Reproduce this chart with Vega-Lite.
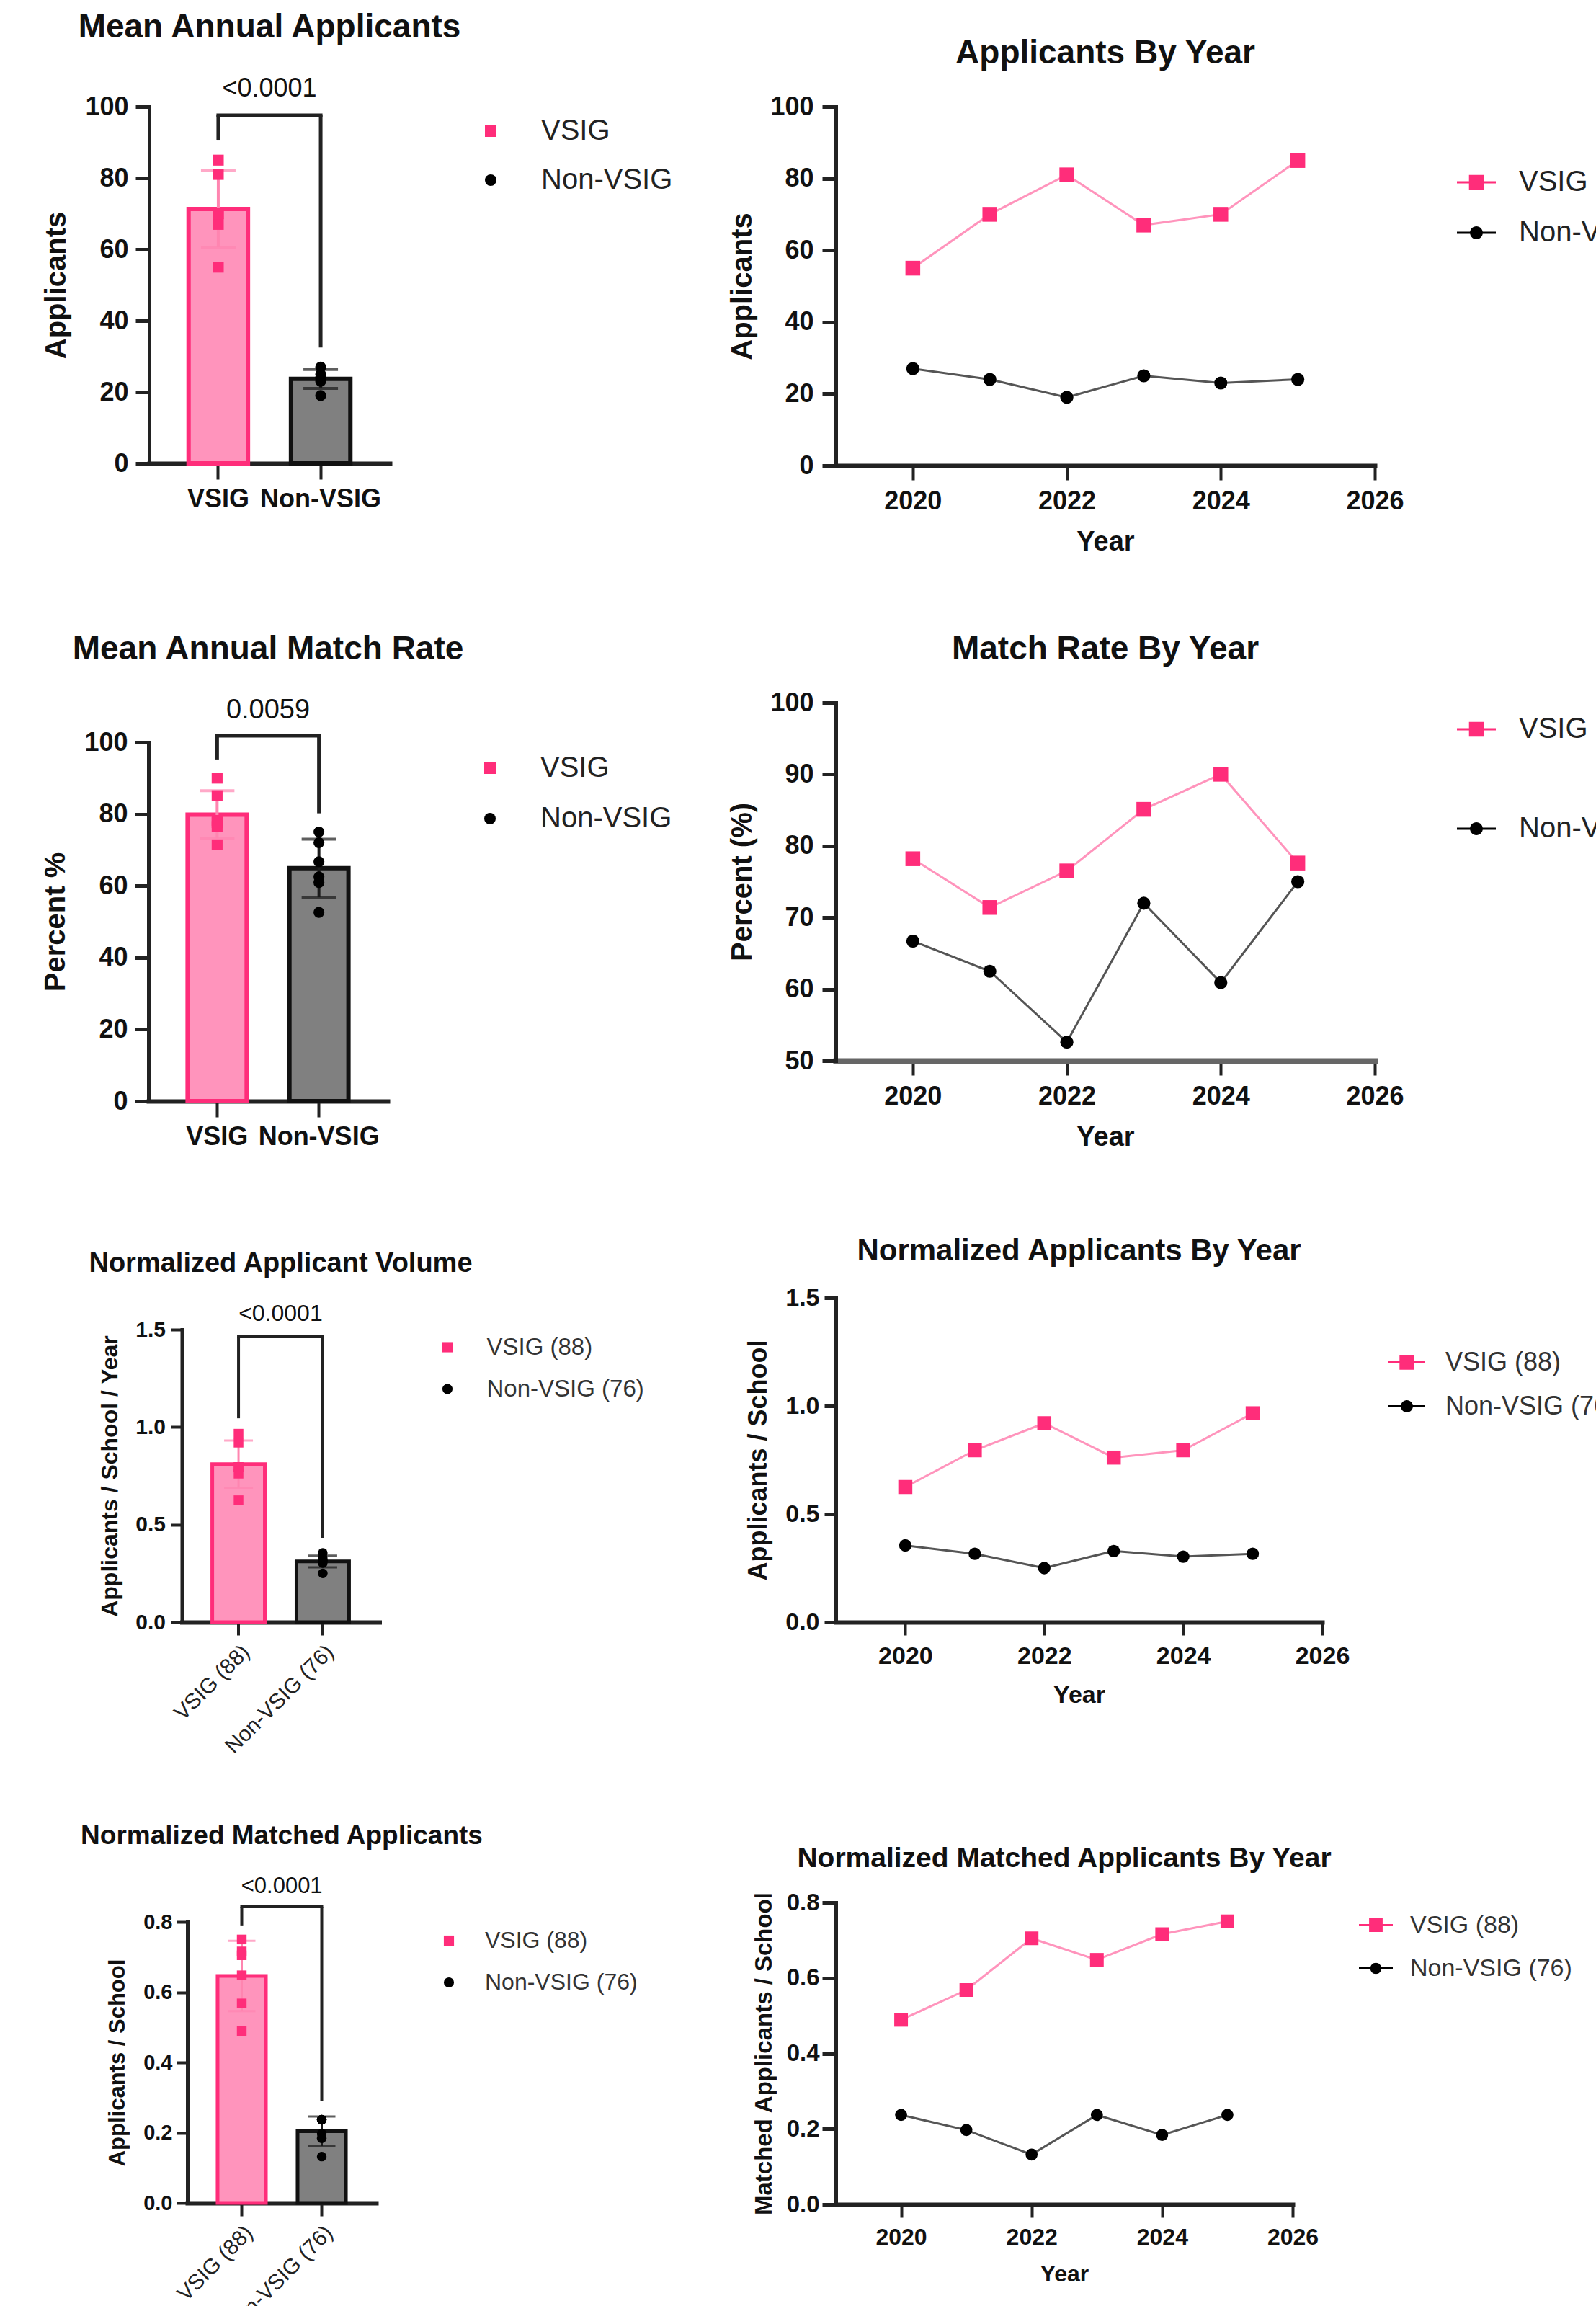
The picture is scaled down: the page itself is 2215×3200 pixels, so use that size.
{
  "$schema": "https://vega.github.io/schema/vega-lite/v6.json",
  "padding": {"left": 57, "top": 15, "right": 0, "bottom": 0},
  "background": "white",
  "config": {
    "view": {"stroke": null},
    "font": "Liberation Sans",
    "title": {"font": "Liberation Sans", "fontWeight": "bold", "color": "#111", "anchor": "middle", "frame": "group"},
    "axis": {"grid": false, "domainColor": "#222", "tickColor": "#222", "labelColor": "#111", "titleColor": "#111", "labelFont": "Liberation Sans", "titleFont": "Liberation Sans", "labelFontWeight": "bold", "titleFontWeight": "bold", "domainWidth": 5, "tickWidth": 5, "labelFlush": false, "labelOverlap": false, "labelLimit": 0, "domainCap": "square"},
    "legend": {"labelFont": "Liberation Sans", "title": null, "labelLimit": 0}
  },
  "datasets": {
    "applicants": [
      {"year": 2020, "group": "VSIG", "value": 55}, {"year": 2021, "group": "VSIG", "value": 70}, {"year": 2022, "group": "VSIG", "value": 81},
      {"year": 2023, "group": "VSIG", "value": 67}, {"year": 2024, "group": "VSIG", "value": 70}, {"year": 2025, "group": "VSIG", "value": 85},
      {"year": 2020, "group": "Non-VSIG", "value": 27}, {"year": 2021, "group": "Non-VSIG", "value": 24}, {"year": 2022, "group": "Non-VSIG", "value": 19},
      {"year": 2023, "group": "Non-VSIG", "value": 25}, {"year": 2024, "group": "Non-VSIG", "value": 23}, {"year": 2025, "group": "Non-VSIG", "value": 24}
    ],
    "matchrate": [
      {"year": 2020, "group": "VSIG", "value": 78.2}, {"year": 2021, "group": "VSIG", "value": 71.4}, {"year": 2022, "group": "VSIG", "value": 76.5},
      {"year": 2023, "group": "VSIG", "value": 85.1}, {"year": 2024, "group": "VSIG", "value": 90.0}, {"year": 2025, "group": "VSIG", "value": 77.6},
      {"year": 2020, "group": "Non-VSIG", "value": 66.7}, {"year": 2021, "group": "Non-VSIG", "value": 62.5}, {"year": 2022, "group": "Non-VSIG", "value": 52.6},
      {"year": 2023, "group": "Non-VSIG", "value": 72.0}, {"year": 2024, "group": "Non-VSIG", "value": 60.9}, {"year": 2025, "group": "Non-VSIG", "value": 75.0}
    ],
    "normapps": [
      {"year": 2020, "group": "VSIG (88)", "value": 0.625}, {"year": 2021, "group": "VSIG (88)", "value": 0.795}, {"year": 2022, "group": "VSIG (88)", "value": 0.920},
      {"year": 2023, "group": "VSIG (88)", "value": 0.761}, {"year": 2024, "group": "VSIG (88)", "value": 0.795}, {"year": 2025, "group": "VSIG (88)", "value": 0.966},
      {"year": 2020, "group": "Non-VSIG (76)", "value": 0.355}, {"year": 2021, "group": "Non-VSIG (76)", "value": 0.316}, {"year": 2022, "group": "Non-VSIG (76)", "value": 0.250},
      {"year": 2023, "group": "Non-VSIG (76)", "value": 0.329}, {"year": 2024, "group": "Non-VSIG (76)", "value": 0.303}, {"year": 2025, "group": "Non-VSIG (76)", "value": 0.316}
    ],
    "normmatched": [
      {"year": 2020, "group": "VSIG (88)", "value": 0.489}, {"year": 2021, "group": "VSIG (88)", "value": 0.568}, {"year": 2022, "group": "VSIG (88)", "value": 0.705},
      {"year": 2023, "group": "VSIG (88)", "value": 0.648}, {"year": 2024, "group": "VSIG (88)", "value": 0.716}, {"year": 2025, "group": "VSIG (88)", "value": 0.750},
      {"year": 2020, "group": "Non-VSIG (76)", "value": 0.237}, {"year": 2021, "group": "Non-VSIG (76)", "value": 0.197}, {"year": 2022, "group": "Non-VSIG (76)", "value": 0.132},
      {"year": 2023, "group": "Non-VSIG (76)", "value": 0.237}, {"year": 2024, "group": "Non-VSIG (76)", "value": 0.184}, {"year": 2025, "group": "Non-VSIG (76)", "value": 0.237}
    ],
    "applicants_bar": [
      {"group": "VSIG", "mean": 71.3, "lo": 60.6, "hi": 82.0},
      {"group": "Non-VSIG", "mean": 23.7, "lo": 21.0, "hi": 26.3}
    ],
    "matchrate_bar": [
      {"group": "VSIG", "mean": 79.8, "lo": 73.2, "hi": 86.5},
      {"group": "Non-VSIG", "mean": 64.9, "lo": 56.8, "hi": 73.0}
    ],
    "normapps_bar": [
      {"group": "VSIG (88)", "mean": 0.810, "lo": 0.689, "hi": 0.931},
      {"group": "Non-VSIG (76)", "mean": 0.311, "lo": 0.281, "hi": 0.341}
    ],
    "normmatched_bar": [
      {"group": "VSIG (88)", "mean": 0.646, "lo": 0.546, "hi": 0.746},
      {"group": "Non-VSIG (76)", "mean": 0.204, "lo": 0.162, "hi": 0.246}
    ],
    "brackets": [
      {"panel": "p1", "left": "VSIG", "right": "Non-VSIG", "leftY": 90.7, "rightY": 32.5, "top": 97.6, "textY": 105, "p": "<0.0001"},
      {"panel": "p3", "left": "VSIG", "right": "Non-VSIG", "leftY": 95.2, "rightY": 80.2, "top": 101.8, "textY": 108.8, "p": "0.0059"},
      {"panel": "p5", "left": "VSIG (88)", "right": "Non-VSIG (76)", "leftY": 1.045, "rightY": 0.432, "top": 1.463, "textY": 1.58, "p": "<0.0001"},
      {"panel": "p7", "left": "VSIG (88)", "right": "Non-VSIG (76)", "leftY": 0.79, "rightY": 0.289, "top": 0.843, "textY": 0.90, "p": "<0.0001"}
    ]
  },
  "resolve": {
    "scale": {"x": "independent", "y": "independent", "color": "independent", "shape": "independent"},
    "legend": {"color": "independent", "shape": "independent"}
  },
  "spacing": 61,
  "hconcat": [
    {
      "spacing": 168,
      "center": true,
      "resolve": {"scale": {"x": "independent", "y": "independent", "color": "independent", "shape": "independent"}, "legend": {"color": "independent", "shape": "independent"}},
      "vconcat": [
        {
          "width": 334, "height": 495,
          "title": {"text": "Mean Annual Applicants", "fontSize": 46, "offset": 43},
          "layer": [
            {
              "data": {"name": "applicants_bar"},
              "transform": [{"filter": "datum.group === 'VSIG'"}],
              "mark": {"type": "bar", "strokeWidth": 6, "fill": "#FF94BC", "stroke": "#FF2D7A"},
              "encoding": {
                "x": {"field": "group", "type": "nominal", "scale": {"domain": ["VSIG", "Non-VSIG"], "paddingInner": 0.42, "paddingOuter": 0.385}, "axis": {"title": null, "labelAngle": 0, "labelFontSize": 36, "tickSize": 22, "tickWidth": 4, "domainWidth": 6, "labelPadding": 10}},
                "y": {"field": "mean", "type": "quantitative", "scale": {"domain": [0, 100], "nice": false}, "axis": {"title": "Applicants", "values": [0, 20, 40, 60, 80, 100], "tickSize": 19, "labelFontSize": 36, "titleFontSize": 40, "labelPadding": 10, "titlePadding": 19}}
              }
            },
            {
              "data": {"name": "applicants_bar"},
              "transform": [{"filter": "datum.group === 'Non-VSIG'"}],
              "mark": {"type": "bar", "strokeWidth": 6, "fill": "#808080", "stroke": "#111111"},
              "encoding": {"x": {"field": "group", "type": "nominal"}, "y": {"field": "mean", "type": "quantitative"}}
            },
            {
              "data": {"name": "applicants_bar"},
              "transform": [{"filter": "datum.group === 'VSIG'"}],
              "layer": [
                {"mark": {"type": "rule", "color": "#FF85B0", "strokeWidth": 4}, "encoding": {"x": {"field": "group", "type": "nominal"}, "y": {"field": "lo", "type": "quantitative"}, "y2": {"field": "hi"}}},
                {"mark": {"type": "tick", "color": "#FF85B0", "thickness": 4, "size": 48}, "encoding": {"x": {"field": "group", "type": "nominal"}, "y": {"field": "lo", "type": "quantitative"}}},
                {"mark": {"type": "tick", "color": "#FF85B0", "thickness": 4, "size": 48}, "encoding": {"x": {"field": "group", "type": "nominal"}, "y": {"field": "hi", "type": "quantitative"}}}
              ]
            },
            {
              "data": {"name": "applicants_bar"},
              "transform": [{"filter": "datum.group === 'Non-VSIG'"}],
              "layer": [
                {"mark": {"type": "rule", "color": "#1a1a1a", "strokeWidth": 4}, "encoding": {"x": {"field": "group", "type": "nominal"}, "y": {"field": "lo", "type": "quantitative"}, "y2": {"field": "hi"}}},
                {"mark": {"type": "tick", "color": "#1a1a1a", "thickness": 4, "size": 48}, "encoding": {"x": {"field": "group", "type": "nominal"}, "y": {"field": "lo", "type": "quantitative"}}},
                {"mark": {"type": "tick", "color": "#1a1a1a", "thickness": 4, "size": 48}, "encoding": {"x": {"field": "group", "type": "nominal"}, "y": {"field": "hi", "type": "quantitative"}}}
              ]
            },
            {
              "data": {"name": "applicants"},
              "mark": {"type": "point", "filled": true, "opacity": 1, "size": 230},
              "encoding": {
                "x": {"field": "group", "type": "nominal"},
                "y": {"field": "value", "type": "quantitative"},
                "color": {"field": "group", "type": "nominal", "scale": {"domain": ["VSIG", "Non-VSIG"], "range": ["#FF2D7A", "#000000"]}, "legend": {"title": null, "orient": "right", "offset": 106, "padding": 14, "labelFontSize": 40, "labelColor": "#222", "labelFontWeight": "normal", "symbolSize": 256, "rowPadding": 28, "labelOffset": 50, "symbolStrokeWidth": 0}},
                "shape": {"field": "group", "type": "nominal", "scale": {"domain": ["VSIG", "Non-VSIG"], "range": ["square", "circle"]}, "legend": {"title": null, "orient": "right", "offset": 106, "padding": 14, "labelFontSize": 40, "labelColor": "#222", "labelFontWeight": "normal", "symbolSize": 256, "rowPadding": 28, "labelOffset": 50, "symbolStrokeWidth": 0}}
              }
            },
            {
              "data": {"name": "brackets"},
              "transform": [{"filter": "datum.panel === 'p1'"}],
              "layer": [
                {"mark": {"type": "rule", "color": "#222", "strokeWidth": 5}, "encoding": {"x": {"field": "left", "type": "nominal"}, "y": {"field": "leftY", "type": "quantitative"}, "y2": {"field": "top"}}},
                {"mark": {"type": "rule", "color": "#222", "strokeWidth": 5}, "encoding": {"x": {"field": "right", "type": "nominal"}, "y": {"field": "rightY", "type": "quantitative"}, "y2": {"field": "top"}}},
                {"mark": {"type": "rule", "color": "#222", "strokeWidth": 5, "strokeCap": "square"}, "encoding": {"x": {"field": "left", "type": "nominal"}, "x2": {"field": "right"}, "y": {"field": "top", "type": "quantitative"}}},
                {"mark": {"type": "text", "fontSize": 36, "font": "Liberation Sans", "color": "#111", "baseline": "middle", "align": "center"}, "encoding": {"x": {"field": "left", "type": "nominal", "bandPosition": 1.362}, "y": {"field": "textY", "type": "quantitative"}, "text": {"field": "p"}}}
              ]
            }
          ]
        },
        {
          "spacing": 140,
          "center": true,
          "resolve": {"scale": {"x": "independent", "y": "independent", "color": "independent", "shape": "independent"}, "legend": {"color": "independent", "shape": "independent"}},
          "vconcat": [
            {
              "width": 332, "height": 498,
              "title": {"text": "Mean Annual Match Rate", "fontSize": 46, "offset": 42},
              "layer": [
                {
                  "data": {"name": "matchrate_bar"},
                  "transform": [{"filter": "datum.group === 'VSIG'"}],
                  "mark": {"type": "bar", "strokeWidth": 6, "fill": "#FF94BC", "stroke": "#FF2D7A"},
                  "encoding": {
                    "x": {"field": "group", "type": "nominal", "scale": {"domain": ["VSIG", "Non-VSIG"], "paddingInner": 0.42, "paddingOuter": 0.385}, "axis": {"title": null, "labelAngle": 0, "labelFontSize": 36, "tickSize": 22, "tickWidth": 4, "domainWidth": 6, "labelPadding": 10}},
                    "y": {"field": "mean", "type": "quantitative", "scale": {"domain": [0, 100], "nice": false}, "axis": {"title": "Percent %", "values": [0, 20, 40, 60, 80, 100], "tickSize": 19, "labelFontSize": 36, "titleFontSize": 40, "labelPadding": 10, "titlePadding": 19}}
                  }
                },
                {
                  "data": {"name": "matchrate_bar"},
                  "transform": [{"filter": "datum.group === 'Non-VSIG'"}],
                  "mark": {"type": "bar", "strokeWidth": 6, "fill": "#808080", "stroke": "#111111"},
                  "encoding": {"x": {"field": "group", "type": "nominal"}, "y": {"field": "mean", "type": "quantitative"}}
                },
                {
                  "data": {"name": "matchrate_bar"},
                  "transform": [{"filter": "datum.group === 'VSIG'"}],
                  "layer": [
                    {"mark": {"type": "rule", "color": "#FF85B0", "strokeWidth": 4}, "encoding": {"x": {"field": "group", "type": "nominal"}, "y": {"field": "lo", "type": "quantitative"}, "y2": {"field": "hi"}}},
                    {"mark": {"type": "tick", "color": "#FF85B0", "thickness": 4, "size": 48}, "encoding": {"x": {"field": "group", "type": "nominal"}, "y": {"field": "lo", "type": "quantitative"}}},
                    {"mark": {"type": "tick", "color": "#FF85B0", "thickness": 4, "size": 48}, "encoding": {"x": {"field": "group", "type": "nominal"}, "y": {"field": "hi", "type": "quantitative"}}}
                  ]
                },
                {
                  "data": {"name": "matchrate_bar"},
                  "transform": [{"filter": "datum.group === 'Non-VSIG'"}],
                  "layer": [
                    {"mark": {"type": "rule", "color": "#1a1a1a", "strokeWidth": 4}, "encoding": {"x": {"field": "group", "type": "nominal"}, "y": {"field": "lo", "type": "quantitative"}, "y2": {"field": "hi"}}},
                    {"mark": {"type": "tick", "color": "#1a1a1a", "thickness": 4, "size": 48}, "encoding": {"x": {"field": "group", "type": "nominal"}, "y": {"field": "lo", "type": "quantitative"}}},
                    {"mark": {"type": "tick", "color": "#1a1a1a", "thickness": 4, "size": 48}, "encoding": {"x": {"field": "group", "type": "nominal"}, "y": {"field": "hi", "type": "quantitative"}}}
                  ]
                },
                {
                  "data": {"name": "matchrate"},
                  "mark": {"type": "point", "filled": true, "opacity": 1, "size": 230},
                  "encoding": {
                    "x": {"field": "group", "type": "nominal"},
                    "y": {"field": "value", "type": "quantitative"},
                    "color": {"field": "group", "type": "nominal", "scale": {"domain": ["VSIG", "Non-VSIG"], "range": ["#FF2D7A", "#000000"]}, "legend": {"title": null, "orient": "right", "offset": 106, "padding": 16, "labelFontSize": 40, "labelColor": "#222", "labelFontWeight": "normal", "symbolSize": 256, "rowPadding": 30, "labelOffset": 50, "symbolStrokeWidth": 0}},
                    "shape": {"field": "group", "type": "nominal", "scale": {"domain": ["VSIG", "Non-VSIG"], "range": ["square", "circle"]}, "legend": {"title": null, "orient": "right", "offset": 106, "padding": 16, "labelFontSize": 40, "labelColor": "#222", "labelFontWeight": "normal", "symbolSize": 256, "rowPadding": 30, "labelOffset": 50, "symbolStrokeWidth": 0}}
                  }
                },
                {
                  "data": {"name": "brackets"},
                  "transform": [{"filter": "datum.panel === 'p3'"}],
                  "layer": [
                    {"mark": {"type": "rule", "color": "#222", "strokeWidth": 5}, "encoding": {"x": {"field": "left", "type": "nominal"}, "y": {"field": "leftY", "type": "quantitative"}, "y2": {"field": "top"}}},
                    {"mark": {"type": "rule", "color": "#222", "strokeWidth": 5}, "encoding": {"x": {"field": "right", "type": "nominal"}, "y": {"field": "rightY", "type": "quantitative"}, "y2": {"field": "top"}}},
                    {"mark": {"type": "rule", "color": "#222", "strokeWidth": 5, "strokeCap": "square"}, "encoding": {"x": {"field": "left", "type": "nominal"}, "x2": {"field": "right"}, "y": {"field": "top", "type": "quantitative"}}},
                    {"mark": {"type": "text", "fontSize": 38, "font": "Liberation Sans", "color": "#111", "baseline": "middle", "align": "center"}, "encoding": {"x": {"field": "left", "type": "nominal", "bandPosition": 1.362}, "y": {"field": "textY", "type": "quantitative"}, "text": {"field": "p"}}}
                  ]
                }
              ]
            },
            {
              "spacing": 90,
              "center": true,
              "resolve": {"scale": {"x": "independent", "y": "independent", "color": "independent", "shape": "independent"}, "legend": {"color": "independent", "shape": "independent"}},
              "vconcat": [
                {
                  "width": 274, "height": 406,
                  "title": {"text": "Normalized Applicant Volume", "fontSize": 38, "offset": 34},
                  "layer": [
                    {
                      "data": {"name": "normapps_bar"},
                      "transform": [{"filter": "datum.group === 'VSIG (88)'"}],
                      "mark": {"type": "bar", "strokeWidth": 5, "fill": "#FF94BC", "stroke": "#FF2D7A"},
                      "encoding": {
                        "x": {"field": "group", "type": "nominal", "scale": {"domain": ["VSIG (88)", "Non-VSIG (76)"], "paddingInner": 0.376, "paddingOuter": 0.36}, "axis": {"title": null, "labelAngle": -45, "labelFontSize": 30, "labelFontWeight": "normal", "labelColor": "#222", "tickSize": 18, "tickWidth": 4, "domainWidth": 6, "labelPadding": 8}},
                        "y": {"field": "mean", "type": "quantitative", "scale": {"domain": [0, 1.5], "nice": false}, "axis": {"title": "Applicants / School / Year", "values": [0, 0.5, 1, 1.5], "format": ".1f", "tickSize": 16, "tickWidth": 4, "labelFontSize": 30, "titleFontSize": 32, "labelPadding": 7, "titlePadding": 18}}
                      }
                    },
                    {
                      "data": {"name": "normapps_bar"},
                      "transform": [{"filter": "datum.group === 'Non-VSIG (76)'"}],
                      "mark": {"type": "bar", "strokeWidth": 5, "fill": "#808080", "stroke": "#111111"},
                      "encoding": {"x": {"field": "group", "type": "nominal"}, "y": {"field": "mean", "type": "quantitative"}}
                    },
                    {
                      "data": {"name": "normapps_bar"},
                      "transform": [{"filter": "datum.group === 'VSIG (88)'"}],
                      "layer": [
                        {"mark": {"type": "rule", "color": "#FF85B0", "strokeWidth": 3}, "encoding": {"x": {"field": "group", "type": "nominal"}, "y": {"field": "lo", "type": "quantitative"}, "y2": {"field": "hi"}}},
                        {"mark": {"type": "tick", "color": "#FF85B0", "thickness": 3, "size": 40}, "encoding": {"x": {"field": "group", "type": "nominal"}, "y": {"field": "lo", "type": "quantitative"}}},
                        {"mark": {"type": "tick", "color": "#FF85B0", "thickness": 3, "size": 40}, "encoding": {"x": {"field": "group", "type": "nominal"}, "y": {"field": "hi", "type": "quantitative"}}}
                      ]
                    },
                    {
                      "data": {"name": "normapps_bar"},
                      "transform": [{"filter": "datum.group === 'Non-VSIG (76)'"}],
                      "layer": [
                        {"mark": {"type": "rule", "color": "#1a1a1a", "strokeWidth": 3}, "encoding": {"x": {"field": "group", "type": "nominal"}, "y": {"field": "lo", "type": "quantitative"}, "y2": {"field": "hi"}}},
                        {"mark": {"type": "tick", "color": "#1a1a1a", "thickness": 3, "size": 40}, "encoding": {"x": {"field": "group", "type": "nominal"}, "y": {"field": "lo", "type": "quantitative"}}},
                        {"mark": {"type": "tick", "color": "#1a1a1a", "thickness": 3, "size": 40}, "encoding": {"x": {"field": "group", "type": "nominal"}, "y": {"field": "hi", "type": "quantitative"}}}
                      ]
                    },
                    {
                      "data": {"name": "normapps"},
                      "mark": {"type": "point", "filled": true, "opacity": 1, "size": 180},
                      "encoding": {
                        "x": {"field": "group", "type": "nominal"},
                        "y": {"field": "value", "type": "quantitative"},
                        "color": {"field": "group", "type": "nominal", "scale": {"domain": ["VSIG (88)", "Non-VSIG (76)"], "range": ["#FF2D7A", "#000000"]}, "legend": {"title": null, "orient": "right", "offset": 70, "padding": 8, "labelFontSize": 33, "labelColor": "#333", "labelFontWeight": "normal", "symbolSize": 200, "rowPadding": 24, "labelOffset": 38, "symbolStrokeWidth": 0}},
                        "shape": {"field": "group", "type": "nominal", "scale": {"domain": ["VSIG (88)", "Non-VSIG (76)"], "range": ["square", "circle"]}, "legend": {"title": null, "orient": "right", "offset": 70, "padding": 8, "labelFontSize": 33, "labelColor": "#333", "labelFontWeight": "normal", "symbolSize": 200, "rowPadding": 24, "labelOffset": 38, "symbolStrokeWidth": 0}}
                      }
                    },
                    {
                      "data": {"name": "brackets"},
                      "transform": [{"filter": "datum.panel === 'p5'"}],
                      "layer": [
                        {"mark": {"type": "rule", "color": "#222", "strokeWidth": 4}, "encoding": {"x": {"field": "left", "type": "nominal"}, "y": {"field": "leftY", "type": "quantitative"}, "y2": {"field": "top"}}},
                        {"mark": {"type": "rule", "color": "#222", "strokeWidth": 4}, "encoding": {"x": {"field": "right", "type": "nominal"}, "y": {"field": "rightY", "type": "quantitative"}, "y2": {"field": "top"}}},
                        {"mark": {"type": "rule", "color": "#222", "strokeWidth": 4, "strokeCap": "square"}, "encoding": {"x": {"field": "left", "type": "nominal"}, "x2": {"field": "right"}, "y": {"field": "top", "type": "quantitative"}}},
                        {"mark": {"type": "text", "fontSize": 32, "font": "Liberation Sans", "color": "#111", "baseline": "middle", "align": "center"}, "encoding": {"x": {"field": "left", "type": "nominal", "bandPosition": 1.30}, "y": {"field": "textY", "type": "quantitative"}, "text": {"field": "p"}}}
                      ]
                    }
                  ]
                },
                {
                  "width": 262, "height": 390,
                  "title": {"text": "Normalized Matched Applicants", "fontSize": 37, "offset": 35},
                  "layer": [
                    {
                      "data": {"name": "normmatched_bar"},
                      "transform": [{"filter": "datum.group === 'VSIG (88)'"}],
                      "mark": {"type": "bar", "strokeWidth": 5, "fill": "#FF94BC", "stroke": "#FF2D7A"},
                      "encoding": {
                        "x": {"field": "group", "type": "nominal", "scale": {"domain": ["VSIG (88)", "Non-VSIG (76)"], "paddingInner": 0.396, "paddingOuter": 0.378}, "axis": {"title": null, "labelAngle": -45, "labelFontSize": 30, "labelFontWeight": "normal", "labelColor": "#222", "tickSize": 18, "tickWidth": 4, "domainWidth": 6, "labelPadding": 8}},
                        "y": {"field": "mean", "type": "quantitative", "scale": {"domain": [0, 0.8], "nice": false}, "axis": {"title": "Applicants / School", "values": [0, 0.2, 0.4, 0.6, 0.8], "format": ".1f", "tickSize": 15, "tickWidth": 4, "labelFontSize": 29, "titleFontSize": 31, "labelPadding": 6, "titlePadding": 19}}
                      }
                    },
                    {
                      "data": {"name": "normmatched_bar"},
                      "transform": [{"filter": "datum.group === 'Non-VSIG (76)'"}],
                      "mark": {"type": "bar", "strokeWidth": 5, "fill": "#808080", "stroke": "#111111"},
                      "encoding": {"x": {"field": "group", "type": "nominal"}, "y": {"field": "mean", "type": "quantitative"}}
                    },
                    {
                      "data": {"name": "normmatched_bar"},
                      "transform": [{"filter": "datum.group === 'VSIG (88)'"}],
                      "layer": [
                        {"mark": {"type": "rule", "color": "#FF85B0", "strokeWidth": 3}, "encoding": {"x": {"field": "group", "type": "nominal"}, "y": {"field": "lo", "type": "quantitative"}, "y2": {"field": "hi"}}},
                        {"mark": {"type": "tick", "color": "#FF85B0", "thickness": 3, "size": 38}, "encoding": {"x": {"field": "group", "type": "nominal"}, "y": {"field": "lo", "type": "quantitative"}}},
                        {"mark": {"type": "tick", "color": "#FF85B0", "thickness": 3, "size": 38}, "encoding": {"x": {"field": "group", "type": "nominal"}, "y": {"field": "hi", "type": "quantitative"}}}
                      ]
                    },
                    {
                      "data": {"name": "normmatched_bar"},
                      "transform": [{"filter": "datum.group === 'Non-VSIG (76)'"}],
                      "layer": [
                        {"mark": {"type": "rule", "color": "#1a1a1a", "strokeWidth": 3}, "encoding": {"x": {"field": "group", "type": "nominal"}, "y": {"field": "lo", "type": "quantitative"}, "y2": {"field": "hi"}}},
                        {"mark": {"type": "tick", "color": "#1a1a1a", "thickness": 3, "size": 38}, "encoding": {"x": {"field": "group", "type": "nominal"}, "y": {"field": "lo", "type": "quantitative"}}},
                        {"mark": {"type": "tick", "color": "#1a1a1a", "thickness": 3, "size": 38}, "encoding": {"x": {"field": "group", "type": "nominal"}, "y": {"field": "hi", "type": "quantitative"}}}
                      ]
                    },
                    {
                      "data": {"name": "normmatched"},
                      "mark": {"type": "point", "filled": true, "opacity": 1, "size": 180},
                      "encoding": {
                        "x": {"field": "group", "type": "nominal"},
                        "y": {"field": "value", "type": "quantitative"},
                        "color": {"field": "group", "type": "nominal", "scale": {"domain": ["VSIG (88)", "Non-VSIG (76)"], "range": ["#FF2D7A", "#000000"]}, "legend": {"title": null, "orient": "right", "offset": 75, "padding": 10, "labelFontSize": 32, "labelColor": "#333", "labelFontWeight": "normal", "symbolSize": 200, "rowPadding": 26, "labelOffset": 34, "symbolStrokeWidth": 0}},
                        "shape": {"field": "group", "type": "nominal", "scale": {"domain": ["VSIG (88)", "Non-VSIG (76)"], "range": ["square", "circle"]}, "legend": {"title": null, "orient": "right", "offset": 75, "padding": 10, "labelFontSize": 32, "labelColor": "#333", "labelFontWeight": "normal", "symbolSize": 200, "rowPadding": 26, "labelOffset": 34, "symbolStrokeWidth": 0}}
                      }
                    },
                    {
                      "data": {"name": "brackets"},
                      "transform": [{"filter": "datum.panel === 'p7'"}],
                      "layer": [
                        {"mark": {"type": "rule", "color": "#222", "strokeWidth": 4}, "encoding": {"x": {"field": "left", "type": "nominal"}, "y": {"field": "leftY", "type": "quantitative"}, "y2": {"field": "top"}}},
                        {"mark": {"type": "rule", "color": "#222", "strokeWidth": 4}, "encoding": {"x": {"field": "right", "type": "nominal"}, "y": {"field": "rightY", "type": "quantitative"}, "y2": {"field": "top"}}},
                        {"mark": {"type": "rule", "color": "#222", "strokeWidth": 4, "strokeCap": "square"}, "encoding": {"x": {"field": "left", "type": "nominal"}, "x2": {"field": "right"}, "y": {"field": "top", "type": "quantitative"}}},
                        {"mark": {"type": "text", "fontSize": 31, "font": "Liberation Sans", "color": "#111", "baseline": "middle", "align": "center"}, "encoding": {"x": {"field": "left", "type": "nominal", "bandPosition": 1.33}, "y": {"field": "textY", "type": "quantitative"}, "text": {"field": "p"}}}
                      ]
                    }
                  ]
                }
              ]
            }
          ]
        }
      ]
    },
    {
      "spacing": 107,
      "resolve": {"scale": {"x": "independent", "y": "independent", "color": "independent", "shape": "independent"}, "legend": {"color": "independent", "shape": "independent"}},
      "vconcat": [
        {
          "width": 748, "height": 498,
          "title": {"text": "Applicants By Year", "fontSize": 46, "offset": 32},
          "data": {"name": "applicants"},
          "layer": [
            {
              "transform": [{"filter": "datum.group === 'VSIG'"}],
              "mark": {"type": "line", "color": "#FF94BC", "strokeWidth": 3},
              "encoding": {
                "x": {"field": "year", "type": "quantitative", "scale": {"domain": [2019, 2026], "nice": false, "zero": false}, "axis": {"title": "Year", "values": [2020, 2022, 2024, 2026], "format": "d", "labelFontSize": 36, "titleFontSize": 38, "tickSize": 20, "tickWidth": 4, "domainWidth": 6, "labelPadding": 12, "titlePadding": 20}},
                "y": {"field": "value", "type": "quantitative", "scale": {"domain": [0, 100], "nice": false}, "axis": {"title": "Applicants", "values": [0, 20, 40, 60, 80, 100], "tickSize": 19, "labelFontSize": 36, "titleFontSize": 40, "labelPadding": 12, "titlePadding": 18}}
              }
            },
            {
              "transform": [{"filter": "datum.group === 'Non-VSIG'"}],
              "mark": {"type": "line", "color": "#555555", "strokeWidth": 3},
              "encoding": {"x": {"field": "year", "type": "quantitative"}, "y": {"field": "value", "type": "quantitative"}}
            },
            {
              "transform": [{"filter": "datum.group === 'VSIG'"}],
              "mark": {"type": "point", "filled": true, "opacity": 1, "shape": "square", "color": "#FF2D7A", "size": 420},
              "encoding": {"x": {"field": "year", "type": "quantitative"}, "y": {"field": "value", "type": "quantitative"}}
            },
            {
              "transform": [{"filter": "datum.group === 'Non-VSIG'"}],
              "mark": {"type": "point", "filled": true, "opacity": 1, "shape": "circle", "color": "#000000", "size": 330},
              "encoding": {"x": {"field": "year", "type": "quantitative"}, "y": {"field": "value", "type": "quantitative"}}
            },
            {
              "mark": {"type": "point", "filled": true, "opacity": 0, "size": 2916},
              "encoding": {
                "x": {"field": "year", "type": "quantitative"},
                "y": {"field": "value", "type": "quantitative"},
                "color": {"field": "group", "type": "nominal", "scale": {"domain": ["VSIG", "Non-VSIG"], "range": ["#FF2D7A", "#000000"]}, "legend": {"title": null, "orient": "right", "offset": 36, "padding": 77, "labelFontSize": 40, "labelColor": "#222", "labelFontWeight": "normal", "symbolSize": 2916, "symbolOpacity": 1, "rowPadding": 22, "labelOffset": 31}},
                "shape": {"field": "group", "type": "nominal", "scale": {"domain": ["VSIG", "Non-VSIG"], "range": ["M-1,-0.06H1V0.06H-1ZM-0.38,-0.38H0.38V0.38H-0.38Z", "M-1,-0.06H1V0.06H-1ZM0.33,0A0.33,0.33,0,1,1,-0.33,0A0.33,0.33,0,1,1,0.33,0Z"]}, "legend": {"title": null, "orient": "right", "offset": 36, "padding": 77, "labelFontSize": 40, "labelColor": "#222", "labelFontWeight": "normal", "symbolSize": 2916, "symbolOpacity": 1, "rowPadding": 22, "labelOffset": 31}}
              }
            }
          ]
        },
        {
          "spacing": 118,
          "resolve": {"scale": {"x": "independent", "y": "independent", "color": "independent", "shape": "independent"}, "legend": {"color": "independent", "shape": "independent"}},
          "vconcat": [
            {
              "width": 748, "height": 497,
              "title": {"text": "Match Rate By Year", "fontSize": 46, "offset": 32},
              "data": {"name": "matchrate"},
              "layer": [
                {
                  "transform": [{"filter": "datum.group === 'VSIG'"}],
                  "mark": {"type": "line", "color": "#FF94BC", "strokeWidth": 3},
                  "encoding": {
                    "x": {"field": "year", "type": "quantitative", "scale": {"domain": [2019, 2026], "nice": false, "zero": false}, "axis": {"title": "Year", "values": [2020, 2022, 2024, 2026], "format": "d", "labelFontSize": 36, "titleFontSize": 38, "tickSize": 20, "tickWidth": 4, "domainWidth": 8, "domainColor": "#666", "labelPadding": 12, "titlePadding": 20}},
                    "y": {"field": "value", "type": "quantitative", "scale": {"domain": [50, 100], "nice": false, "zero": false}, "axis": {"title": "Percent (%)", "values": [50, 60, 70, 80, 90, 100], "tickSize": 19, "labelFontSize": 36, "titleFontSize": 40, "labelPadding": 12, "titlePadding": 18}}
                  }
                },
                {
                  "transform": [{"filter": "datum.group === 'Non-VSIG'"}],
                  "mark": {"type": "line", "color": "#555555", "strokeWidth": 3},
                  "encoding": {"x": {"field": "year", "type": "quantitative"}, "y": {"field": "value", "type": "quantitative"}}
                },
                {
                  "transform": [{"filter": "datum.group === 'VSIG'"}],
                  "mark": {"type": "point", "filled": true, "opacity": 1, "shape": "square", "color": "#FF2D7A", "size": 420},
                  "encoding": {"x": {"field": "year", "type": "quantitative"}, "y": {"field": "value", "type": "quantitative"}}
                },
                {
                  "transform": [{"filter": "datum.group === 'Non-VSIG'"}],
                  "mark": {"type": "point", "filled": true, "opacity": 1, "shape": "circle", "color": "#000000", "size": 330},
                  "encoding": {"x": {"field": "year", "type": "quantitative"}, "y": {"field": "value", "type": "quantitative"}}
                },
                {
                  "mark": {"type": "point", "filled": true, "opacity": 0, "size": 2916},
                  "encoding": {
                    "x": {"field": "year", "type": "quantitative"},
                    "y": {"field": "value", "type": "quantitative"},
                    "color": {"field": "group", "type": "nominal", "scale": {"domain": ["VSIG", "Non-VSIG"], "range": ["#FF2D7A", "#000000"]}, "legend": {"title": null, "orient": "right", "offset": 104, "padding": 9, "labelFontSize": 40, "labelColor": "#222", "labelFontWeight": "normal", "symbolSize": 2916, "symbolOpacity": 1, "rowPadding": 90, "labelOffset": 31}},
                    "shape": {"field": "group", "type": "nominal", "scale": {"domain": ["VSIG", "Non-VSIG"], "range": ["M-1,-0.06H1V0.06H-1ZM-0.38,-0.38H0.38V0.38H-0.38Z", "M-1,-0.06H1V0.06H-1ZM0.33,0A0.33,0.33,0,1,1,-0.33,0A0.33,0.33,0,1,1,0.33,0Z"]}, "legend": {"title": null, "orient": "right", "offset": 104, "padding": 9, "labelFontSize": 40, "labelColor": "#222", "labelFontWeight": "normal", "symbolSize": 2916, "symbolOpacity": 1, "rowPadding": 90, "labelOffset": 31}}
                  }
                }
              ]
            },
            {
              "spacing": 191,
              "resolve": {"scale": {"x": "independent", "y": "independent", "color": "independent", "shape": "independent"}, "legend": {"color": "independent", "shape": "independent"}},
              "vconcat": [
                {
                  "width": 675, "height": 450,
                  "title": {"text": "Normalized Applicants By Year", "fontSize": 42, "offset": 26},
                  "data": {"name": "normapps"},
                  "layer": [
                    {
                      "transform": [{"filter": "datum.group === 'VSIG (88)'"}],
                      "mark": {"type": "line", "color": "#FF94BC", "strokeWidth": 3},
                      "encoding": {
                        "x": {"field": "year", "type": "quantitative", "scale": {"domain": [2019, 2026], "nice": false, "zero": false}, "axis": {"title": "Year", "values": [2020, 2022, 2024, 2026], "format": "d", "labelFontSize": 34, "titleFontSize": 34, "tickSize": 18, "tickWidth": 4, "domainWidth": 6, "labelPadding": 12, "titlePadding": 20}},
                        "y": {"field": "value", "type": "quantitative", "scale": {"domain": [0, 1.5], "nice": false}, "axis": {"title": "Applicants / School", "values": [0, 0.5, 1, 1.5], "format": ".1f", "tickSize": 16, "labelFontSize": 34, "titleFontSize": 36, "labelPadding": 7, "titlePadding": 18}}
                      }
                    },
                    {
                      "transform": [{"filter": "datum.group === 'Non-VSIG (76)'"}],
                      "mark": {"type": "line", "color": "#555555", "strokeWidth": 3},
                      "encoding": {"x": {"field": "year", "type": "quantitative"}, "y": {"field": "value", "type": "quantitative"}}
                    },
                    {
                      "transform": [{"filter": "datum.group === 'VSIG (88)'"}],
                      "mark": {"type": "point", "filled": true, "opacity": 1, "shape": "square", "color": "#FF2D7A", "size": 380},
                      "encoding": {"x": {"field": "year", "type": "quantitative"}, "y": {"field": "value", "type": "quantitative"}}
                    },
                    {
                      "transform": [{"filter": "datum.group === 'Non-VSIG (76)'"}],
                      "mark": {"type": "point", "filled": true, "opacity": 1, "shape": "circle", "color": "#000000", "size": 300},
                      "encoding": {"x": {"field": "year", "type": "quantitative"}, "y": {"field": "value", "type": "quantitative"}}
                    },
                    {
                      "mark": {"type": "point", "filled": true, "opacity": 0, "size": 2601},
                      "encoding": {
                        "x": {"field": "year", "type": "quantitative"},
                        "y": {"field": "value", "type": "quantitative"},
                        "color": {"field": "group", "type": "nominal", "scale": {"domain": ["VSIG (88)", "Non-VSIG (76)"], "range": ["#FF2D7A", "#000000"]}, "legend": {"title": null, "orient": "right", "offset": 28, "padding": 63, "labelFontSize": 36, "labelColor": "#333", "labelFontWeight": "normal", "symbolSize": 2601, "symbolOpacity": 1, "rowPadding": 16, "labelOffset": 27}},
                        "shape": {"field": "group", "type": "nominal", "scale": {"domain": ["VSIG (88)", "Non-VSIG (76)"], "range": ["M-1,-0.06H1V0.06H-1ZM-0.4,-0.4H0.4V0.4H-0.4Z", "M-1,-0.06H1V0.06H-1ZM0.33,0A0.33,0.33,0,1,1,-0.33,0A0.33,0.33,0,1,1,0.33,0Z"]}, "legend": {"title": null, "orient": "right", "offset": 28, "padding": 63, "labelFontSize": 36, "labelColor": "#333", "labelFontWeight": "normal", "symbolSize": 2601, "symbolOpacity": 1, "rowPadding": 16, "labelOffset": 27}}
                      }
                    }
                  ]
                },
                {
                  "width": 634, "height": 419,
                  "title": {"text": "Normalized Matched Applicants By Year", "fontSize": 39, "offset": 25},
                  "data": {"name": "normmatched"},
                  "layer": [
                    {
                      "transform": [{"filter": "datum.group === 'VSIG (88)'"}],
                      "mark": {"type": "line", "color": "#FF94BC", "strokeWidth": 3},
                      "encoding": {
                        "x": {"field": "year", "type": "quantitative", "scale": {"domain": [2019, 2026], "nice": false, "zero": false}, "axis": {"title": "Year", "values": [2020, 2022, 2024, 2026], "format": "d", "labelFontSize": 32, "titleFontSize": 32, "tickSize": 18, "tickWidth": 4, "domainWidth": 6, "labelPadding": 12, "titlePadding": 20}},
                        "y": {"field": "value", "type": "quantitative", "scale": {"domain": [0, 0.8], "nice": false}, "axis": {"title": "Matched Applicants / School", "values": [0, 0.2, 0.4, 0.6, 0.8], "format": ".1f", "tickSize": 19, "labelFontSize": 33, "titleFontSize": 33, "labelPadding": 4, "titlePadding": 14}}
                      }
                    },
                    {
                      "transform": [{"filter": "datum.group === 'Non-VSIG (76)'"}],
                      "mark": {"type": "line", "color": "#555555", "strokeWidth": 3},
                      "encoding": {"x": {"field": "year", "type": "quantitative"}, "y": {"field": "value", "type": "quantitative"}}
                    },
                    {
                      "transform": [{"filter": "datum.group === 'VSIG (88)'"}],
                      "mark": {"type": "point", "filled": true, "opacity": 1, "shape": "square", "color": "#FF2D7A", "size": 360},
                      "encoding": {"x": {"field": "year", "type": "quantitative"}, "y": {"field": "value", "type": "quantitative"}}
                    },
                    {
                      "transform": [{"filter": "datum.group === 'Non-VSIG (76)'"}],
                      "mark": {"type": "point", "filled": true, "opacity": 1, "shape": "circle", "color": "#000000", "size": 280},
                      "encoding": {"x": {"field": "year", "type": "quantitative"}, "y": {"field": "value", "type": "quantitative"}}
                    },
                    {
                      "mark": {"type": "point", "filled": true, "opacity": 0, "size": 2209},
                      "encoding": {
                        "x": {"field": "year", "type": "quantitative"},
                        "y": {"field": "value", "type": "quantitative"},
                        "color": {"field": "group", "type": "nominal", "scale": {"domain": ["VSIG (88)", "Non-VSIG (76)"], "range": ["#FF2D7A", "#000000"]}, "legend": {"title": null, "orient": "right", "offset": 84, "padding": 7, "labelFontSize": 34, "labelColor": "#333", "labelFontWeight": "normal", "symbolSize": 2209, "symbolOpacity": 1, "rowPadding": 18, "labelOffset": 23}},
                        "shape": {"field": "group", "type": "nominal", "scale": {"domain": ["VSIG (88)", "Non-VSIG (76)"], "range": ["M-1,-0.06H1V0.06H-1ZM-0.4,-0.4H0.4V0.4H-0.4Z", "M-1,-0.06H1V0.06H-1ZM0.33,0A0.33,0.33,0,1,1,-0.33,0A0.33,0.33,0,1,1,0.33,0Z"]}, "legend": {"title": null, "orient": "right", "offset": 84, "padding": 7, "labelFontSize": 34, "labelColor": "#333", "labelFontWeight": "normal", "symbolSize": 2209, "symbolOpacity": 1, "rowPadding": 18, "labelOffset": 23}}
                      }
                    }
                  ]
                }
              ]
            }
          ]
        }
      ]
    }
  ]
}
